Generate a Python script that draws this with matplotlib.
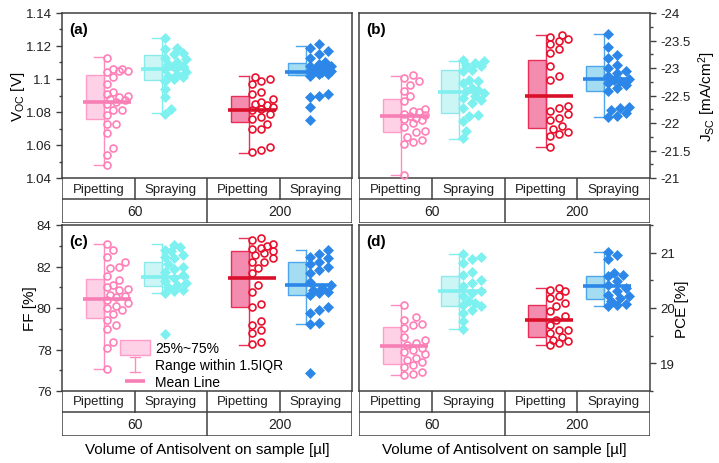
import numpy as np
import matplotlib
matplotlib.use('Agg')
import matplotlib.pyplot as plt
from matplotlib.patches import Rectangle
from matplotlib.ticker import MultipleLocator, FuncFormatter

plt.rcParams['font.family'] = ['Liberation Sans', 'DejaVu Sans']
plt.rcParams['axes.unicode_minus'] = False
plt.rcParams['mathtext.default'] = 'regular'

# ---------------- data ----------------
methods = ['Pipetting', 'Spraying', 'Pipetting', 'Spraying']
volumes = ['60', '200']
xlabel_text = 'Volume of Antisolvent on sample [µl]'

voc_pip60 = [1.113, 1.106, 1.106, 1.105, 1.105, 1.104, 1.101, 1.097, 1.092, 1.091, 1.090, 1.089, 1.088,
             1.087, 1.086, 1.085, 1.081, 1.081, 1.078, 1.073, 1.073, 1.067, 1.058, 1.054, 1.048]
voc_spr60 = [1.125, 1.119, 1.118, 1.116, 1.115, 1.113, 1.112, 1.110, 1.109, 1.108, 1.107, 1.106, 1.104,
             1.103, 1.102, 1.101, 1.100, 1.099, 1.094, 1.089, 1.082, 1.079]
voc_pip200 = [1.101, 1.100, 1.099, 1.097, 1.092, 1.091, 1.088, 1.086, 1.085, 1.084, 1.083, 1.082, 1.081,
              1.079, 1.077, 1.076, 1.073, 1.070, 1.070, 1.059, 1.057, 1.056]
voc_spr200 = [1.121, 1.119, 1.117, 1.115, 1.113, 1.110, 1.109, 1.108, 1.108, 1.107, 1.106, 1.105, 1.105,
              1.104, 1.104, 1.103, 1.103, 1.102, 1.091, 1.090, 1.089, 1.083, 1.075]

jsc_pip60 = [-22.87, -22.82, -22.77, -22.69, -22.59, -22.50, -22.40, -22.25, -22.22, -22.20, -22.17, -22.15,
             -22.12, -22.10, -22.07, -22.05, -22.00, -21.93, -21.85, -21.83, -21.75, -21.70, -21.65, -21.62, -21.06]
jsc_spr60 = [-23.15, -23.12, -23.09, -23.06, -23.03, -22.97, -22.94, -22.79, -22.76, -22.73, -22.64, -22.60,
             -22.58, -22.55, -22.49, -22.45, -22.41, -22.36, -22.28, -22.15, -22.12, -22.03, -21.85, -21.72]
jsc_pip200 = [-23.60, -23.57, -23.53, -23.50, -23.43, -23.35, -23.28, -23.04, -22.85, -22.78, -22.31, -22.28,
              -22.22, -22.16, -22.10, -22.05, -21.95, -21.89, -21.83, -21.80, -21.77, -21.57]
jsc_spr200 = [-23.62, -23.39, -23.24, -23.18, -23.06, -23.00, -22.95, -22.91, -22.85, -22.80, -22.78, -22.76,
              -22.72, -22.70, -22.64, -22.58, -22.30, -22.27, -22.24, -22.18, -22.13, -22.11]

ff_pip60 = [83.07, 82.80, 82.47, 82.23, 81.99, 81.91, 81.56, 81.35, 81.11, 81.03, 80.92, 80.85, 80.63, 80.60,
            80.55, 80.39, 80.23, 80.10, 80.02, 79.90, 79.70, 79.42, 79.18, 78.99, 78.38, 78.09, 77.05]
ff_spr60 = [83.05, 82.95, 82.80, 82.75, 82.55, 82.45, 82.40, 82.10, 81.99, 81.90, 81.75, 81.60, 81.43, 81.30,
            81.20, 81.10, 81.00, 80.87, 80.80, 80.71, 78.73]
ff_pip200 = [83.39, 83.28, 83.07, 83.00, 82.90, 82.84, 82.75, 82.63, 82.55, 82.39, 82.23, 82.20, 81.94, 81.67,
             81.11, 80.79, 80.18, 80.07, 79.37, 79.18, 78.94, 78.78, 78.38, 78.25]
ff_spr200 = [82.80, 82.59, 82.47, 82.39, 82.23, 82.10, 81.99, 81.83, 81.67, 81.27, 81.11, 80.95, 80.85, 80.79,
             80.71, 80.63, 80.07, 79.90, 79.74, 79.26, 79.23, 76.85]

pce_pip60 = [20.05, 19.83, 19.79, 19.71, 19.70, 19.63, 19.48, 19.42, 19.37, 19.33, 19.28, 19.24, 19.20, 19.16,
             19.10, 19.06, 19.02, 18.97, 18.94, 18.85, 18.80, 18.79]
pce_spr60 = [20.98, 20.93, 20.88, 20.82, 20.65, 20.60, 20.51, 20.45, 20.39, 20.31, 20.27, 20.21, 20.12, 20.09,
             20.06, 20.03, 19.97, 19.91, 19.76, 19.62]
pce_pip200 = [20.36, 20.33, 20.30, 20.21, 20.18, 20.09, 20.03, 19.94, 19.86, 19.78, 19.69, 19.61, 19.60, 19.55,
              19.47, 19.42, 19.40, 19.37, 19.33]
pce_spr200 = [21.02, 20.96, 20.88, 20.64, 20.60, 20.57, 20.48, 20.42, 20.36, 20.30, 20.24, 20.21, 20.18, 20.12,
              20.08, 20.06, 20.03]

# box statistics: q1, q3, whisker low, whisker high, mean
voc_q1 = [1.0755, 1.0996, 1.0742, 1.1022]
voc_q3 = [1.1022, 1.1147, 1.0895, 1.1097]
voc_lo = [1.0480, 1.0794, 1.0552, 1.1022]
voc_hi = [1.1135, 1.1250, 1.1016, 1.1198]
voc_mean = [1.0863, 1.1060, 1.0812, 1.1040]

jsc_q1 = [-21.83, -22.19, -21.91, -22.59]
jsc_q3 = [-22.44, -22.97, -23.15, -23.03]
jsc_lo = [-21.055, -21.715, -21.558, -22.11]
jsc_hi = [-22.85, -23.133, -23.60, -23.62]
jsc_mean = [-22.12, -22.558, -22.485, -22.80]

ff_q1 = [79.53, 81.08, 80.05, 80.63]
ff_q3 = [81.40, 82.20, 82.75, 82.20]
ff_lo = [77.05, 80.71, 78.22, 79.25]
ff_hi = [83.07, 83.07, 83.39, 82.80]
ff_mean = [80.43, 81.48, 81.43, 81.11]

pce_q1 = [18.99, 20.04, 19.47, 20.16]
pce_q3 = [19.65, 20.57, 20.05, 20.58]
pce_lo = [18.79, 19.62, 19.33, 20.04]
pce_hi = [20.055, 20.98, 20.36, 21.02]
pce_mean = [19.31, 20.31, 19.78, 20.40]

# ---------------- styles ----------------
W, H = 719, 464
marker_col = ['#FF80B8', '#7DF0F0', '#E8112D', '#2C87E8']
box_face = ['#FFD1E6', '#CCF6F6', '#F48CAF', '#A4DCF2']
box_edge = ['#FF9CC9', '#8EEAEA', '#E6305A', '#4FA6EA']
whisk_col = ['#FF8CC0', '#80EEEE', '#E8305A', '#4FA6EA']
mean_col = ['#F77FB5', '#7FEFEF', '#D9102A', '#2C87E8']
markers = ['o', 'D', 'o', 'D']
whisker_pos = [0.575, 1.375, 2.575, 3.372]
spine_col = '#404040'

fig = plt.figure(figsize=(W / 100, H / 100), dpi=100)


def rect(x0, y0, x1, y1):
    return [x0 / W, 1 - y1 / H, (x1 - x0) / W, (y1 - y0) / H]


def swarm(ypx, d, step=3.0, max_off=21.0):
    """Deterministic data-overlap placement (pixel offsets to the right of the whisker)."""
    order = np.argsort(ypx)
    placed = []
    offs = np.zeros(len(ypx))
    cands = np.arange(0.0, max_off + 0.01, step)
    for i in order:
        best, best_d = 0.0, -1.0
        for x in cands:
            if placed:
                md = min(np.hypot(x - px, ypx[i] - py) for px, py in placed)
            else:
                md = 1e9
            if md >= d:
                best = x
                break
            if md > best_d:
                best_d, best = md, x
        offs[i] = best
        placed.append((best, ypx[i]))
    return offs


def panel(px_rect, groups, q1, q3, lo, hi, mean, ylim, major, minor, side, label, ylab, lab_x):
    x0, y0, x1, y1 = px_rect
    ax = fig.add_axes(rect(x0, y0, x1, y1))
    ax.set_xlim(0, 4)
    ax.set_ylim(*ylim)
    ppu = (x1 - x0) / 4.0
    for sp in ax.spines.values():
        sp.set_color(spine_col)
        sp.set_linewidth(1.1)
    ax.set_xticks([])
    ax.yaxis.set_major_locator(MultipleLocator(major))
    ax.yaxis.set_minor_locator(MultipleLocator(minor))
    ax.yaxis.set_major_formatter(FuncFormatter(lambda v, p: f'{v:.4g}'))
    ax.tick_params(axis='y', which='both', direction='out', colors=spine_col, labelcolor='#202020',
                   labelsize=9.5, width=1)
    ax.tick_params(axis='y', which='major', length=4)
    ax.tick_params(axis='y', which='minor', length=2)
    if side == 'right':
        ax.yaxis.tick_right()
        ax.yaxis.set_label_position('right')
    ax.set_ylabel(ylab, fontsize=11)
    ax.yaxis.set_label_coords(lab_x, 0.5)
    bw = 18 / ppu
    cap = 10 / ppu
    for g in range(4):
        wx = whisker_pos[g]
        lo_b, hi_b = min(q1[g], q3[g]), max(q1[g], q3[g])
        ax.add_patch(Rectangle((wx - bw, lo_b), bw, hi_b - lo_b, facecolor=box_face[g],
                               edgecolor=box_edge[g], lw=1.0, zorder=2))
        ax.plot([wx, wx], [lo[g], hi[g]], color=whisk_col[g], lw=1.0, zorder=2.5)
        ax.plot([wx - cap, wx], [hi[g], hi[g]], color=whisk_col[g], lw=1.0, zorder=2.5)
        ax.plot([wx - cap, wx], [lo[g], lo[g]], color=whisk_col[g], lw=1.0, zorder=2.5)
        vals = np.asarray(groups[g], dtype=float)
        ypx = ax.transData.transform(np.column_stack([np.full(len(vals), wx), vals]))[:, 1]
        offs = swarm(ypx, 7.5)
        xs = wx + (3.5 + offs) / ppu
        if markers[g] == 'o':
            ax.plot(xs, vals, 'o', ms=5, mfc='none', mec=marker_col[g], mew=1.2, zorder=3, clip_on=False)
        else:
            ax.plot(xs, vals, 'D', ms=5.2, mfc=marker_col[g], mec=marker_col[g], mew=0.5, zorder=3,
                    clip_on=False)
        ax.plot([wx - 21 / ppu, wx + 27 / ppu], [mean[g], mean[g]], color=mean_col[g], lw=2.6,
                solid_capstyle='butt', zorder=4)
    ax.text(0.025, 0.945, label, transform=ax.transAxes, fontsize=11, fontweight='bold', va='top', ha='left')
    # category table
    tax = fig.add_axes(rect(x0, y1, x1, y1 + 45))
    tax.set_xlim(0, 4)
    tax.set_ylim(0, 45)
    tax.axis('off')
    lk = dict(color=spine_col, lw=1.1, solid_capstyle='projecting')
    tax.plot([0, 4], [24, 24], **lk)
    tax.plot([0, 4], [0, 0], **lk)
    for xv in [0, 4]:
        tax.plot([xv, xv], [0, 45], **lk)
    for xv in [1, 3]:
        tax.plot([xv, xv], [24, 45], **lk)
    tax.plot([2, 2], [0, 45], **lk)
    for i, m in enumerate(methods):
        tax.text(i + 0.5, 34.5, m, ha='center', va='center', fontsize=9.5, color='#202020')
    for i, v in enumerate(volumes):
        tax.text(2 * i + 1, 12, v, ha='center', va='center', fontsize=10, color='#202020')
    return ax


ax_a = panel((62, 14, 352, 179), [voc_pip60, voc_spr60, voc_pip200, voc_spr200],
             voc_q1, voc_q3, voc_lo, voc_hi, voc_mean, (1.04, 1.14), 0.02, 0.01, 'left', '(a)',
             'V$_{OC}$ [V]', -0.12)
ax_b = panel((359, 14, 650, 179), [jsc_pip60, jsc_spr60, jsc_pip200, jsc_spr200],
             jsc_q1, jsc_q3, jsc_lo, jsc_hi, jsc_mean, (-21, -24), 0.5, 0.25, 'right', '(b)',
             'J$_{SC}$ [mA/cm$^{2}$]', 1.16)
ax_c = panel((62, 226, 352, 392), [ff_pip60, ff_spr60, ff_pip200, ff_spr200],
             ff_q1, ff_q3, ff_lo, ff_hi, ff_mean, (76, 84), 2, 1, 'left', '(c)',
             'FF [%]', -0.085)
ax_d = panel((359, 226, 650, 392), [pce_pip60, pce_spr60, pce_pip200, pce_spr200],
             pce_q1, pce_q3, pce_lo, pce_hi, pce_mean, (18.5, 21.5), 1, 0.5, 'right', '(d)',
             'PCE [%]', 1.085)

# legend inside (c)
tr = ax_c.transAxes
ax_c.add_patch(Rectangle((0.20, 0.217), 0.103, 0.09, transform=tr, facecolor=box_face[0],
                         edgecolor=box_edge[0], lw=1.0, zorder=5))
ax_c.plot([0.252, 0.252], [0.114, 0.205], transform=tr, color=whisk_col[0], lw=1.0, zorder=5)
ax_c.plot([0.236, 0.268], [0.205, 0.205], transform=tr, color=whisk_col[0], lw=1.0, zorder=5)
ax_c.plot([0.236, 0.268], [0.114, 0.114], transform=tr, color=whisk_col[0], lw=1.0, zorder=5)
ax_c.plot([0.217, 0.286], [0.058, 0.058], transform=tr, color=mean_col[0], lw=2.6, solid_capstyle='butt',
          zorder=5)
ax_c.text(0.32, 0.262, '25%~75%', transform=tr, fontsize=10, va='center', ha='left', zorder=5)
ax_c.text(0.32, 0.158, 'Range within 1.5IQR', transform=tr, fontsize=10, va='center', ha='left', zorder=5)
ax_c.text(0.32, 0.055, 'Mean Line', transform=tr, fontsize=10, va='center', ha='left', zorder=5)

# x labels
fig.text(207 / W, 1 - 450 / H, xlabel_text, ha='center', va='center', fontsize=11)
fig.text(504.5 / W, 1 - 450 / H, xlabel_text, ha='center', va='center', fontsize=11)

fig.savefig('out.png', dpi=100)
